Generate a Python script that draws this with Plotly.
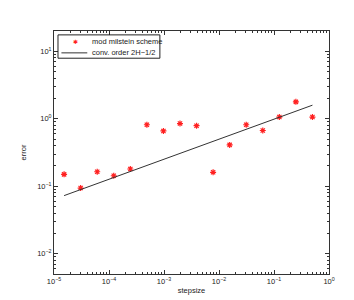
import plotly.graph_objects as go

stepsize = [2**-16, 2**-15, 2**-14, 2**-13, 2**-12, 2**-11, 2**-10, 2**-9,
            2**-8, 2**-7, 2**-6, 2**-5, 2**-4, 2**-3, 2**-2, 2**-1]
error = [0.15, 0.094, 0.164, 0.143, 0.18, 0.815, 0.66, 0.85,
         0.79, 0.161, 0.41, 0.815, 0.67, 1.06, 1.78, 1.06]
line_x = [2**-16, 2**-1]
line_y = [0.0726, 1.59]

x_exps = [-5, -4, -3, -2, -1, 0]
y_exps = [-2, -1, 0, 1]
legend_labels = ["mod milstein scheme", "conv. order 2H\u22121/2"]

font = "Liberation Sans, Arial, sans-serif"
txt_col = "#222222"
red = "#ff2020"

def tick_text(e):
    s = str(e).replace("-", "\u2212")
    return "10<sup>" + s + "</sup>"

def minors(lo, hi):
    return [m * 10.0**e for e in range(lo, hi) for m in range(2, 10)]

fig = go.Figure()
fig.add_trace(go.Scatter(
    x=stepsize, y=error, mode="markers", name=legend_labels[0],
    marker=dict(symbol="asterisk", size=5, color=red,
                line=dict(color=red, width=1.2)),
    showlegend=False,
))
fig.add_trace(go.Scatter(
    x=line_x, y=line_y, mode="lines", name=legend_labels[1],
    line=dict(color="#333333", width=1), showlegend=False,
))

axis_common = dict(
    type="log", showgrid=False, zeroline=False, showline=True,
    linecolor="#333333", linewidth=1, mirror="ticks",
    ticks="inside", ticklen=4, tickcolor="#333333",
    tickfont=dict(family=font, size=7.5, color=txt_col),
)

fig.update_xaxes(
    range=[-5, 0],
    tickvals=[10.0**e for e in x_exps], ticktext=[tick_text(e) for e in x_exps],
    minor=dict(tickvals=minors(-5, 0), ticks="inside", ticklen=2,
               tickcolor="#333333", showgrid=False),
    title=dict(text="stepsize", standoff=2, font=dict(family=font, size=7.5, color=txt_col)),
    **axis_common)
fig.update_yaxes(
    range=[-2.301, 1.301],
    tickvals=[10.0**e for e in y_exps], ticktext=[tick_text(e) for e in y_exps],
    minor=dict(tickvals=minors(-3, 2), ticks="inside", ticklen=2,
               tickcolor="#333333", showgrid=False),
    title=dict(text="error", standoff=9, font=dict(family=font, size=7.5, color=txt_col)),
    **axis_common)

# manual compact legend box (paper coords)
L, R = 0.0145, 0.385
T, B = 0.984, 0.888
fig.add_shape(type="rect", xref="paper", yref="paper", x0=L, x1=R, y0=B, y1=T,
              line=dict(color=txt_col, width=1), fillcolor="white", layer="above")
row1 = 0.955
row2 = 0.910
fig.add_shape(type="line", xref="paper", yref="paper", x0=0.027, x1=0.121,
              y0=row2, y1=row2, line=dict(color="#333333", width=1), layer="above")
fig.add_annotation(xref="paper", yref="paper", x=0.0785, y=row1, text="\u2731",
                   showarrow=False, font=dict(family="DejaVu Sans", size=6, color=red),
                   xanchor="center", yanchor="middle")
fig.add_annotation(xref="paper", yref="paper", x=0.13, y=row1, text=legend_labels[0],
                   showarrow=False, font=dict(family=font, size=7.5, color=txt_col),
                   xanchor="left", yanchor="middle")
fig.add_annotation(xref="paper", yref="paper", x=0.13, y=row2, text=legend_labels[1],
                   showarrow=False, font=dict(family=font, size=7.5, color=txt_col),
                   xanchor="left", yanchor="middle")

fig.update_layout(
    width=354, height=300,
    margin=dict(l=46, r=33, t=23, b=34),
    paper_bgcolor="white", plot_bgcolor="white",
    font=dict(family=font, size=7.5, color=txt_col),
    showlegend=False,
)

fig.write_html("out.html")
